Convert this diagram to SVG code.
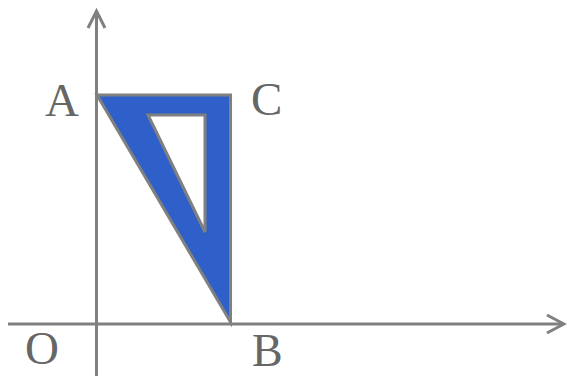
<svg xmlns="http://www.w3.org/2000/svg" width="567" height="376" viewBox="0 0 567 376">
<style>
.ax{stroke:#808080;stroke-width:3;fill:none}
.lbl{font-family:"Liberation Serif","Times New Roman",serif;font-size:47px;fill:#666}
</style>
<rect width="567" height="376" fill="#fff"/>
<g id="axes" class="ax">
<line x1="96.5" y1="376" x2="96.5" y2="11"/>
<polyline points="88,28 96.5,11 105,28"/>
<line x1="8" y1="324" x2="564" y2="324"/>
<polyline points="547,315 564,324 547,333"/>
</g>
<g id="triangle">
<path d="M97,95 L230.5,95 L230.5,322 Z M148,115 L205,115 L205,232 Z" fill="#2f60c9" fill-rule="evenodd" stroke="#808080" stroke-width="3" stroke-linejoin="miter"/>
</g>
<g id="labels">
<text class="lbl" x="45" y="116">A</text>
<text class="lbl" x="251" y="115">C</text>
<text class="lbl" x="25" y="364">O</text>
<text class="lbl" x="252" y="366" style="font-size:46px">B</text>
</g>
</svg>
